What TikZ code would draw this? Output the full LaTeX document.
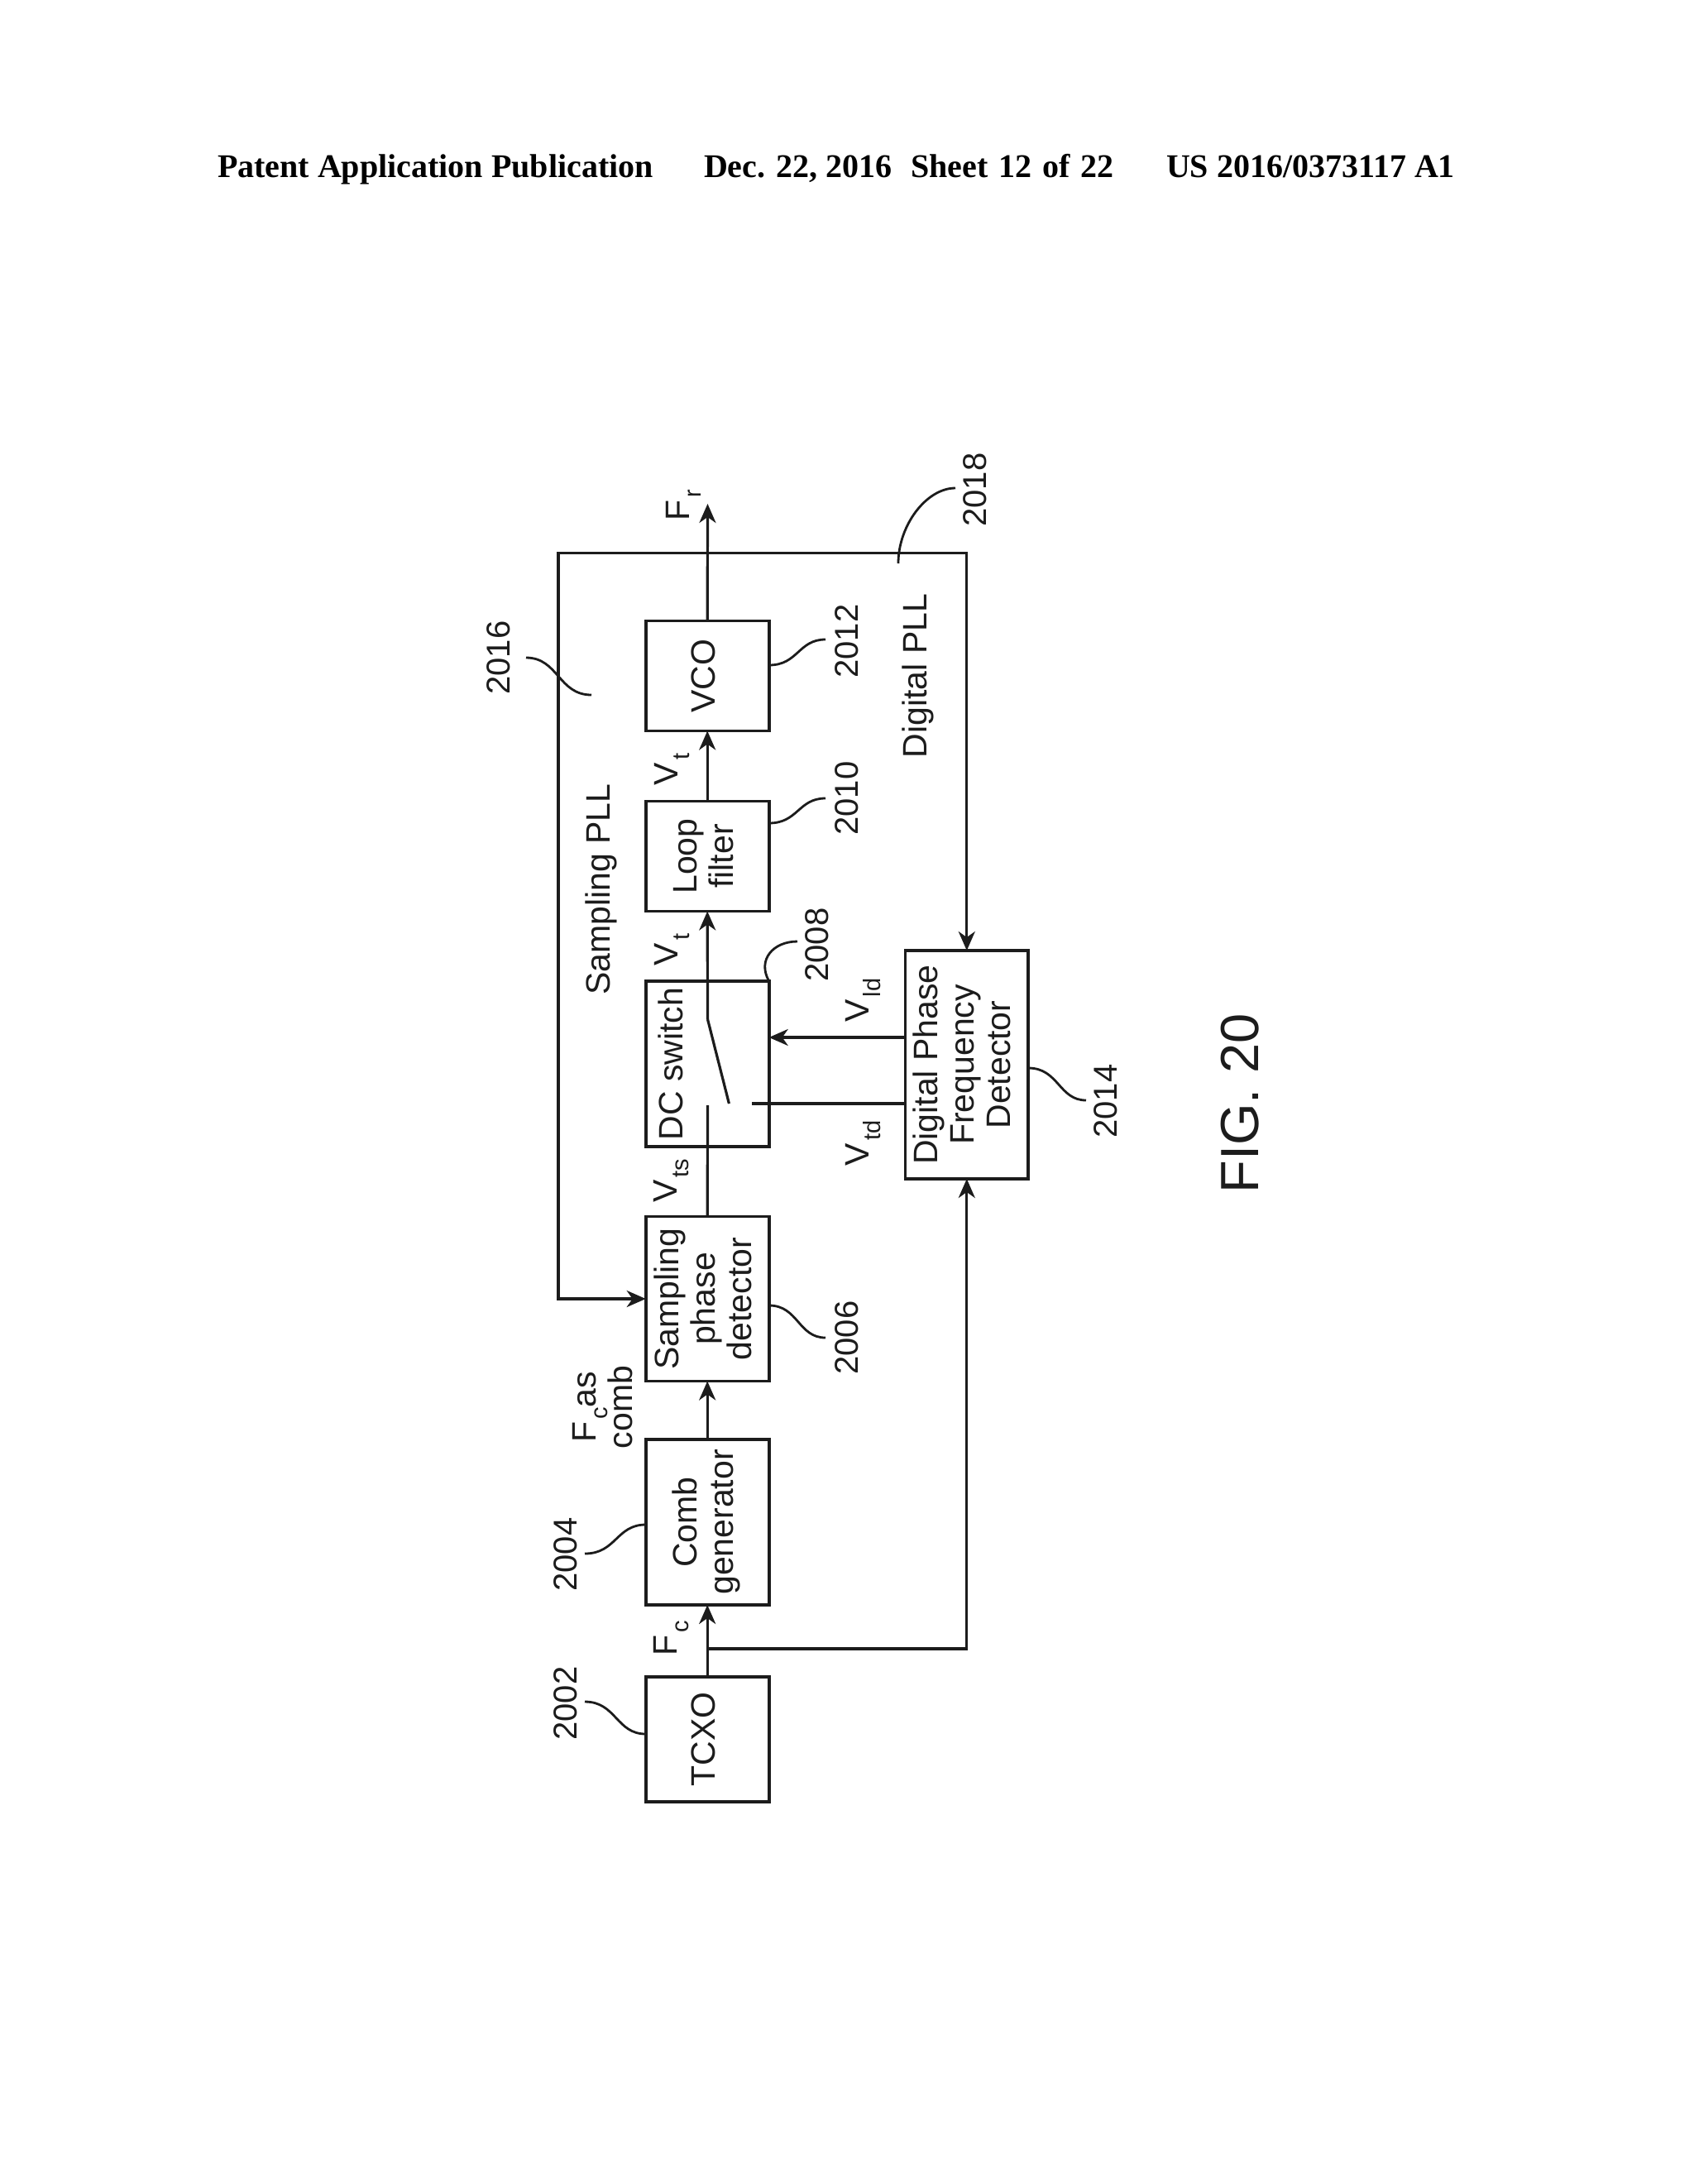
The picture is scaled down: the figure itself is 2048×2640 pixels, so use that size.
\documentclass[tikz,border=0pt]{standalone}
\usepackage{fontspec}
\setmainfont{Liberation Sans}
\newfontfamily\hdr{Liberation Serif}
\usetikzlibrary{arrows.meta}
\definecolor{ink}{HTML}{1c1c1c}
\newcommand{\rt}[1]{\rotatebox{90}{\begin{tabular}{@{}c@{}}#1\end{tabular}}}
\newcommand{\lowsub}[1]{\raisebox{-7pt}{\fontsize{14.5}{15}\selectfont\hspace{1.5pt}#1}}
\tikzset{
  x=0.5pt,y=-0.5pt,
  every node/.style={text=ink,inner sep=0pt,outer sep=0pt},
  blockbox/.style={draw=ink,line width=1.9pt,fill=white,align=center,font=\fontsize{20.5}{22}\selectfont},
  lab/.style={rotate=90,align=center,font=\fontsize{20.5}{22}\selectfont},
  num/.style={rotate=90,font=\fontsize{20}{22}\selectfont},
  head/.style={anchor=base west,text=black,font=\hdr\bfseries\fontsize{20}{22}\selectfont},
  wire/.style={draw=ink,line width=1.6pt},
  arr/.style={wire,-{Stealth[length=11.5pt,width=10pt,inset=3.5pt]}},
  lead/.style={draw=ink,line width=1.4pt},
}
\begin{document}
\begin{tikzpicture}
\path[fill=white] (0,0) rectangle (2048,2640);
\useasboundingbox (0,0) rectangle (2048,2640);
% header
\node[head] (h1) at (263,214) {Patent Application Publication};
\node[head] (h2) at (851,214) {Dec. 22, 2016};
\node[head] (h3) at (1101,214) {Sheet\hspace{1.5pt} 12\hspace{1.5pt} of\hspace{1.5pt} 22};
\node[head] (h4) at (1410,214) {US 2016/0373117 A1};
% wire coordinates
\coordinate (tap) at (855.5,668.5);
\coordinate (frameTL) at (675,668.5);
\coordinate (fr) at (855.5,609);
\coordinate (br) at (855.5,1993);
\coordinate (swtop) at (855.5,1232);
\coordinate (swend) at (881.4,1334);
\coordinate (swin) at (855.5,1336);
\coordinate (swr) at (909,1334);
% blocks
\tikzset{bw/.style={minimum width=149pt/2}}
\node[blockbox,bw,minimum height=151pt/2] (tcxo) at (855.2,2102.5) {\rt{TCXO}};
\node[blockbox,bw,minimum height=200pt/2] (comb) at (855.2,1840) {\rt{Comb\\generator}};
\node[blockbox,bw,minimum height=199pt/2] (spd) at (855.2,1570) {\rt{Sampling\\phase\\detector}};
\node[blockbox,bw,minimum height=200pt/2] (dc) at (855.2,1286) {};
\node[blockbox,bw,minimum height=133pt/2] (lf) at (855.2,1035) {\rt{Loop\\filter}};
\node[blockbox,bw,minimum height=133pt/2] (vco) at (855.2,817) {\rt{VCO}};
\node[blockbox,minimum width=148.5pt/2,minimum height=276pt/2] (pfd) at (1168.8,1287) {\rt{Digital Phase\\Frequency\\Detector}};
\node[lab] (dctext) at (811,1286) {DC switch};
% connectors
\draw[arr] (tcxo.north) -- (comb.south);
\draw[arr] (comb.north) -- (spd.south);
\draw[wire] (spd.north) -- (swin);
\draw[wire] (swtop) -- (swend);
\draw[arr] (swtop) -- (lf.south);
\draw[arr] (lf.north) -- (vco.south);
\draw[arr] (vco.north) -- (fr);
\draw[arr] (br) -| (pfd.south);
\draw[arr] (tap) -| (pfd.north);
\draw[arr] (tap) -- (frameTL) |- (spd.west);
\draw[arr] (pfd.west |- 0,1254) -- (dc.east |- 0,1254);
\draw[wire] (pfd.west |- 0,1334) -- (swr);
% signal labels
\node[lab] (fro) at (826,611) {F\lowsub{r}};
\node[lab] (vt2) at (812,930) {V\lowsub{t}};
\node[lab] (vt1) at (812,1148) {V\lowsub{t}};
\node[lab] (vts) at (812,1427) {V\lowsub{ts}};
\node[lab] (fcc) at (812,1980) {F\lowsub{c}};
\node[lab] (fcas) at (729,1701) {F\lowsub{c}as\\comb};
\node[lab] (vld) at (1044,1209) {V\lowsub{ld}};
\node[lab] (vtd) at (1044,1382) {V\lowsub{td}};
\node[lab] (spll) at (727,1075) {Sampling PLL};
\node[lab] (dpll) at (1110,817) {Digital PLL};
% reference numerals and leaders
\node[num] (n2002) at (684,2059) {2002};
\node[num] (n2004) at (684,1879) {2004};
\node[num] (n2006) at (1024,1617) {2006};
\node[num] (n2008) at (988,1142) {2008};
\node[num] (n2010) at (1024,965) {2010};
\node[num] (n2012) at (1024,775) {2012};
\node[num] (n2014) at (1337,1331) {2014};
\node[num] (n2016) at (603,795) {2016};
\node[num] (n2018) at (1179,592) {2018};
\coordinate (l2002) at (707,2057);
\coordinate (l2004) at (707,1878);
\coordinate (l2006) at (998,1617);
\coordinate (l2008) at (964,1138);
\coordinate (l2010) at (998,965);
\coordinate (l2012) at (998,773);
\coordinate (l2014) at (1313,1330);
\coordinate (l2016a) at (636,795);
\coordinate (l2016b) at (715,840);
\coordinate (l2018a) at (1155,590);
\coordinate (l2018b) at (1086,681);
\draw[lead] (tcxo.west |- 0,2096) .. controls (745,2096) and (745,2057) .. (l2002);
\draw[lead] (comb.west |- 0,1843) .. controls (745,1843) and (745,1878) .. (l2004);
\draw[lead] (spd.east |- 0,1578) .. controls (965,1578) and (965,1617) .. (l2006);
\draw[lead] (dc.east |- 0,1186) .. controls (915,1160) and (935,1138) .. (l2008);
\draw[lead] (lf.east |- 0,995) .. controls (965,995) and (965,965) .. (l2010);
\draw[lead] (vco.east |- 0,804) .. controls (965,804) and (965,773) .. (l2012);
\draw[lead] (pfd.east |- 0,1291) .. controls (1280,1291) and (1280,1330) .. (l2014);
\draw[lead] (l2016a) .. controls (675,795) and (675,840) .. (l2016b);
\draw[lead] (l2018b) .. controls (1086,635) and (1120,590) .. (l2018a);
% figure label
\node[rotate=90,font=\fontsize{32.5}{36}\selectfont] (fig) at (1499,1334) {FIG. 20};
\end{tikzpicture}
\end{document}
